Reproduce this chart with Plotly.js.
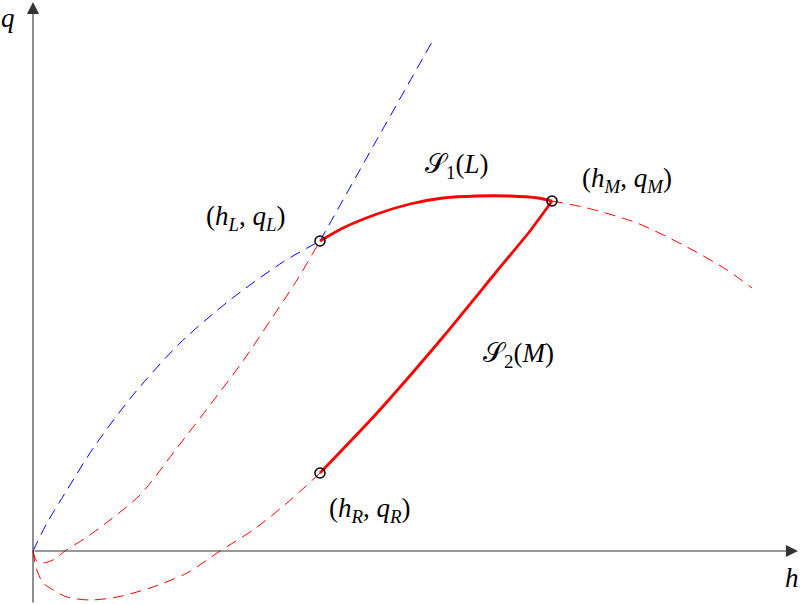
<!DOCTYPE html>
<html><head><meta charset="utf-8">
<script src="https://cdn.plot.ly/plotly-3.0.1.min.js"></script>
<style>html,body{margin:0;padding:0;background:#fff}</style>
</head><body><div id="chart" style="width:800px;height:604px"></div>
<script>
// blue dashed curve, origin to L
const blueLowH = [0, 0.14, 0.34, 0.61, 1.00, 1.47, 1.97, 2.50, 2.87];
const blueLowQ = [0, 0.28, 0.61, 1.04, 1.56, 2.08, 2.51, 2.89, 3.10];
// blue dashed curve, L upwards
const blueUpH = [2.87, 3.42, 3.99];
const blueUpQ = [3.10, 4.08, 5.09];
// red dashed curve through L (origin to L)
const redAH = [0, 0.02, 0.05, 0.10, 0.20, 0.32, 0.54, 0.77, 1.07, 1.44, 1.77, 2.10, 2.37, 2.64, 2.87];
const redAQ = [0, -0.07, -0.11, -0.12, -0.09, 0, 0.14, 0.31, 0.56, 1.03, 1.46, 1.90, 2.30, 2.71, 3.10];
// solid S1(L): L to M
const s1H = [2.87, 3.10, 3.44, 3.77, 4.10, 4.44, 4.77, 5.05, 5.19];
const s1Q = [3.10, 3.23, 3.37, 3.47, 3.53, 3.55, 3.55, 3.53, 3.50];
// red dashed continuation beyond M
const redCH = [5.19, 5.54, 6.04, 6.54, 6.94, 7.19];
const redCQ = [3.50, 3.43, 3.28, 3.04, 2.81, 2.63];
// red dashed curve through R (origin to R)
const redBH = [0, 0.02, 0.05, 0.10, 0.17, 0.34, 0.57, 0.84, 1.17, 1.54, 1.87, 2.20, 2.54, 2.87];
const redBQ = [0, -0.12, -0.22, -0.32, -0.37, -0.46, -0.49, -0.46, -0.37, -0.22, 0, 0.21, 0.48, 0.78];
// solid S2(M): R to M
const s2H = [2.87, 3.44, 4.10, 4.64, 4.97, 5.19];
const s2Q = [0.78, 1.38, 2.14, 2.80, 3.20, 3.50];
// states L, M, R
const stateH = [2.87, 5.19, 2.87];
const stateQ = [3.10, 3.50, 0.78];
// labels
const labelText = ['(<i>h</i><sub><i>L</i></sub>, <i>q</i><sub><i>L</i></sub>)',
                   '𝒮<sub>1</sub>(<i>L</i>)',
                   '(<i>h</i><sub><i>M</i></sub>, <i>q</i><sub><i>M</i></sub>)',
                   '𝒮<sub>2</sub>(<i>M</i>)',
                   '(<i>h</i><sub><i>R</i></sub>, <i>q</i><sub><i>R</i></sub>)',
                   '<i>q</i>', '<i>h</i>'];
const labelH = [2.13, 4.23, 5.94, 4.85, 3.37, -0.25, 7.59];
const labelQ = [3.33, 3.85, 3.71, 1.96, 0.41, 5.33, -0.27];

const dash = '11px,7px';
function dashed(x, y, color) {
  return {x, y, mode: 'lines', type: 'scatter', hoverinfo: 'skip',
          line: {color, width: 1, dash, shape: 'spline', smoothing: 0.8}};
}
function solid(x, y) {
  return {x, y, mode: 'lines', type: 'scatter', hoverinfo: 'skip',
          line: {color: '#ff0000', width: 2.8, shape: 'spline', smoothing: 0.6}};
}
const traces = [
  dashed(blueLowH, blueLowQ, '#0000ff'),
  dashed(blueUpH, blueUpQ, '#0000ff'),
  dashed(redAH, redAQ, '#ff0000'),
  dashed(redCH, redCQ, '#ff0000'),
  dashed(redBH, redBQ, '#ff0000'),
  solid(s1H, s1Q),
  solid(s2H, s2Q),
  {x: stateH, y: stateQ, mode: 'markers', type: 'scatter', hoverinfo: 'skip',
   marker: {symbol: 'circle-open', size: 10, color: '#000', line: {width: 1.5, color: '#000'}}}
];

const annotations = labelText.map((t, i) => ({
  x: labelH[i], y: labelQ[i], xref: 'x', yref: 'y', text: t, showarrow: false,
  font: {family: 'Liberation Serif, DejaVu Serif, serif', size: 27, color: '#000'}
}));
// axes with arrows
annotations.push({x: 7.65, y: 0, ax: 0, ay: 0, xref: 'x', yref: 'y', axref: 'x', ayref: 'y',
  text: '', showarrow: true, arrowhead: 2, arrowsize: 2.2, arrowwidth: 1.1, arrowcolor: '#333'});
annotations.push({x: 0, y: 5.49, ax: 0, ay: -0.53, xref: 'x', yref: 'y', axref: 'x', ayref: 'y',
  text: '', showarrow: true, arrowhead: 2, arrowsize: 2.2, arrowwidth: 1.1, arrowcolor: '#333'});

const layout = {
  width: 800, height: 604,
  margin: {l: 0, r: 0, t: 0, b: 0},
  paper_bgcolor: '#fff', plot_bgcolor: '#fff',
  showlegend: false,
  xaxis: {range: [-0.33, 7.67], visible: false, fixedrange: true},
  yaxis: {range: [-0.53, 5.51], visible: false, fixedrange: true},
  annotations
};
Plotly.newPlot('chart', traces, layout, {staticPlot: true});
</script>
</body></html>
